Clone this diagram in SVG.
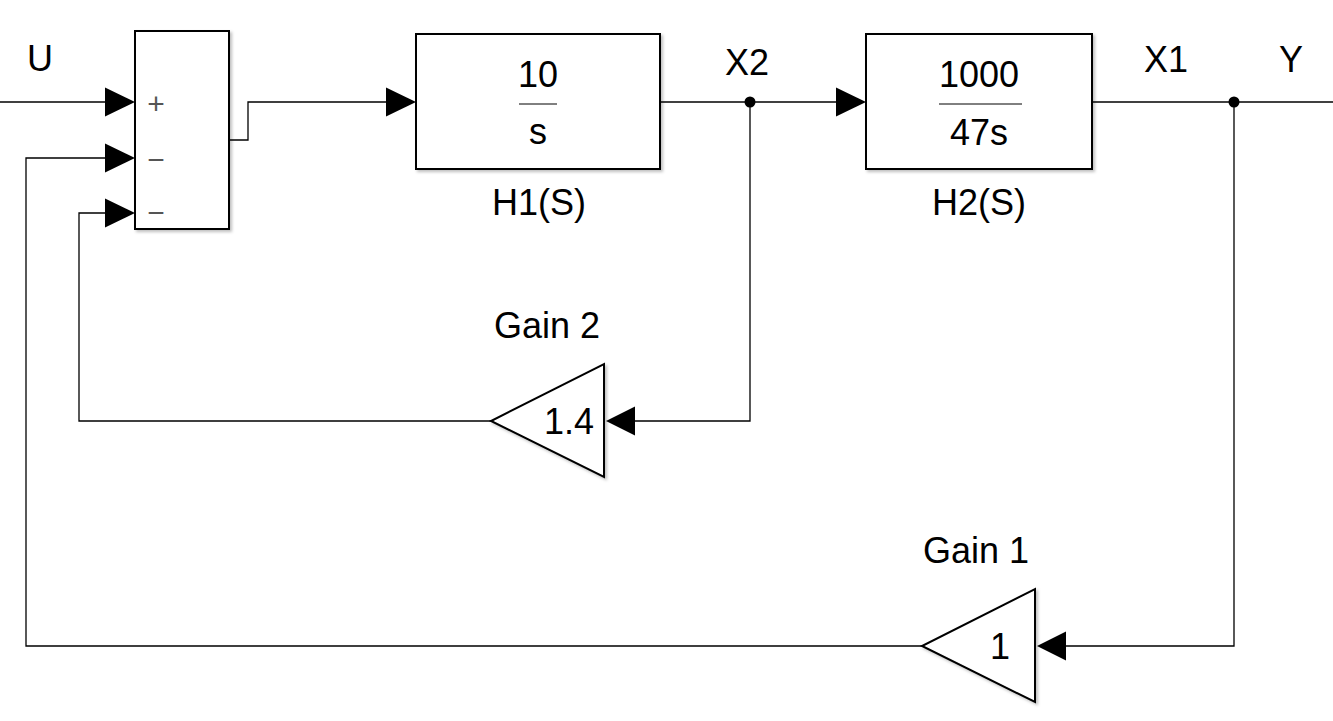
<svg xmlns="http://www.w3.org/2000/svg" width="1333" height="721" viewBox="0 0 1333 721">
  <style>
    .blk { fill: #fff; stroke: #000; stroke-width: 2; filter: url(#sh); }
    .wire { fill: none; stroke: #000; stroke-width: 1.3; }
    .lbl { font-family: "Liberation Sans", Arial, sans-serif; font-size: 36px; fill: #000; text-anchor: middle; }
    .sign { font-family: "Liberation Sans", Arial, sans-serif; font-size: 30px; fill: #555; text-anchor: middle; }
    .arr { fill: #000; }
  </style>
  <defs>
    <filter id="sh" x="-10%" y="-10%" width="130%" height="130%">
      <feDropShadow dx="2" dy="2" stdDeviation="1.5" flood-color="#000" flood-opacity="0.25"/>
    </filter>
  </defs>
  <rect width="1333" height="721" fill="#fff"/>

  <g id="connectors">
    <path class="wire" d="M0 102 H106"/>
    <path class="wire" d="M229 140 H248 V102 H388"/>
    <path class="wire" d="M660 102 H837"/>
    <path class="wire" d="M1092 102 H1333"/>
    <path class="wire" d="M750 102 V421 H634"/>
    <path class="wire" d="M1234 102 V646 H1065"/>
    <path class="wire" d="M491 421 H79 V213 H106"/>
    <path class="wire" d="M922 646 H26 V158 H106"/>
    <circle cx="750" cy="102" r="5.5" class="arr"/>
    <circle cx="1234" cy="102" r="5.5" class="arr"/>
    <polygon class="arr" points="105,87.5 135,102 105,116.5"/>
    <polygon class="arr" points="105,143.5 135,158 105,172.5"/>
    <polygon class="arr" points="105,198.5 135,213 105,227.5"/>
    <polygon class="arr" points="386,87.5 416,102 386,116.5"/>
    <polygon class="arr" points="836,87.5 866,102 836,116.5"/>
    <polygon class="arr" points="635,406.5 606,421 635,435.5"/>
    <polygon class="arr" points="1066,631.5 1037,646 1066,660.5"/>
  </g>

  <g id="sum">
    <rect class="blk" x="135" y="31" width="94" height="198"/>
    <text class="sign" x="156" y="114">+</text>
    <text class="sign" x="156" y="170">−</text>
    <text class="sign" x="156" y="223">−</text>
  </g>

  <g id="H1">
    <rect class="blk" x="416" y="34" width="244" height="135"/>
    <text class="lbl" x="538" y="87">10</text>
    <line x1="519" y1="104" x2="557" y2="104" stroke="#000" stroke-width="1"/>
    <text class="lbl" x="538" y="144">s</text>
    <text class="lbl" x="539" y="215">H1(S)</text>
  </g>

  <g id="H2">
    <rect class="blk" x="866" y="34" width="226" height="135"/>
    <text class="lbl" x="979" y="87">1000</text>
    <line x1="939" y1="104" x2="1022" y2="104" stroke="#000" stroke-width="1"/>
    <text class="lbl" x="979" y="145">47s</text>
    <text class="lbl" x="979" y="215">H2(S)</text>
  </g>

  <g id="gain2">
    <polygon class="blk" points="604,364 604,477 491,421"/>
    <text class="lbl" x="569" y="434">1.4</text>
    <text class="lbl" x="547" y="338">Gain 2</text>
  </g>

  <g id="gain1">
    <polygon class="blk" points="1035,589 1035,702 922,646"/>
    <text class="lbl" x="1000" y="659">1</text>
    <text class="lbl" x="976" y="563">Gain 1</text>
  </g>

  <g id="labels">
    <text class="lbl" x="40" y="71">U</text>
    <text class="lbl" x="747" y="75">X2</text>
    <text class="lbl" x="1166" y="72">X1</text>
    <text class="lbl" x="1291" y="72">Y</text>
  </g>
</svg>
